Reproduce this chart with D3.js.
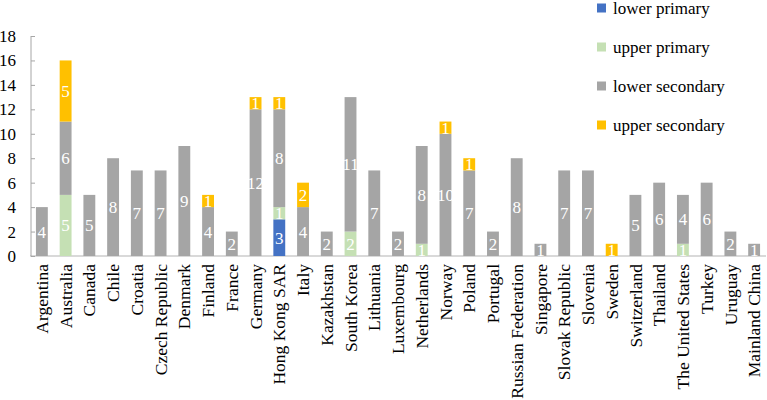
<!DOCTYPE html>
<html>
<head>
<meta charset="utf-8">
<script src="https://cdn.jsdelivr.net/npm/d3@7"></script>
</head>
<body style="margin:0;background:#fff">
<svg id="chart" width="767" height="400" font-family="Liberation Serif"></svg>
<script>
// data
var countries = ["Argentina", "Australia", "Canada", "Chile", "Croatia", "Czech Republic", "Denmark",
    "Finland", "France", "Germany", "Hong Kong SAR", "Italy", "Kazakhstan", "South Korea", "Lithuania",
    "Luxembourg", "Netherlands", "Norway", "Poland", "Portugal", "Russian Federation", "Singapore",
    "Slovak Republic", "Slovenia", "Sweden", "Switzerland", "Thailand", "The United States", "Turkey",
    "Uruguay", "Mainland China"];
var lowerPrimary   = [0,0,0,0,0,0,0,0,0,0,3,0,0,0,0,0,0,0,0,0,0,0,0,0,0,0,0,0,0,0,0];
var upperPrimary   = [0,5,0,0,0,0,0,0,0,0,1,0,0,2,0,0,1,0,0,0,0,0,0,0,0,0,0,1,0,0,0];
var lowerSecondary = [4,6,5,8,7,7,9,4,2,12,8,4,2,11,7,2,8,10,7,2,8,1,7,7,0,5,6,4,6,2,1];
var upperSecondary = [0,5,0,0,0,0,0,1,0,1,1,2,0,0,0,0,0,1,1,0,0,0,0,0,1,0,0,0,0,0,0];
var seriesNames = ["lower primary", "upper primary", "lower secondary", "upper secondary"];
var yTicks = [0,2,4,6,8,10,12,14,16,18];

var color = ["#4472C4", "#C5E0B4", "#A5A5A5", "#FFC000"];
var font = "Liberation Serif";

var svg = d3.select("#chart");

var table = countries.map(function(c, i) {
    return {name: c, lp: lowerPrimary[i], up: upperPrimary[i], ls: lowerSecondary[i], us: upperSecondary[i]};
});
var keys = ["lp", "up", "ls", "us"];
var stacked = d3.stack().keys(keys)(table);

var x = d3.scaleBand()
    .domain(countries)
    .range([30, 766])
    .paddingInner(0.5)
    .paddingOuter(0.25);
var y = d3.scaleLinear()
    .domain([0, 18])
    .range([256, 36]);

// x axis line
svg.append("line")
    .attr("x1", 30).attr("x2", 766)
    .attr("y1", y(0)).attr("y2", y(0))
    .attr("stroke", "#D9D9D9")
    .attr("stroke-width", 2);

// bars
var layer = svg.selectAll("g.layer")
    .data(stacked)
    .enter().append("g")
    .attr("class", "layer")
    .attr("fill", function(d, i) { return color[i]; });

layer.selectAll("rect")
    .data(function(d) { return d; })
    .enter().append("rect")
    .attr("x", function(d) { return x(d.data.name); })
    .attr("width", x.bandwidth())
    .attr("y", function(d) { return y(d[1]); })
    .attr("height", function(d) { return y(d[0]) - y(d[1]); });

// value labels
layer.selectAll("text")
    .data(function(d) { return d.filter(function(e) { return e[1] - e[0] > 0; }); })
    .enter().append("text")
    .attr("x", function(d) { return x(d.data.name) + x.bandwidth() / 2; })
    .attr("y", function(d) { return (y(d[0]) + y(d[1])) / 2; })
    .attr("dy", "0.35em")
    .attr("text-anchor", "middle")
    .attr("fill", "white")
    .attr("font-size", 17)
    .text(function(d) { return d[1] - d[0]; });

// y axis
var yAxis = svg.append("g")
    .attr("transform", "translate(31,0)")
    .call(d3.axisLeft(y).tickValues(yTicks).tickSize(-4).tickPadding(15));
yAxis.attr("font-size", 17);
yAxis.select(".domain").attr("stroke", "#A6A6A6").attr("d", "M0," + y(18) + "V" + y(0));
yAxis.selectAll(".tick line").attr("stroke", "#A6A6A6");
yAxis.selectAll(".tick text").attr("fill", "#000");

// category labels
svg.selectAll("text.cat")
    .data(countries)
    .enter().append("text")
    .attr("class", "cat")
    .attr("transform", function(d) {
        return "translate(" + (x(d) + x.bandwidth() / 2) + ",264) rotate(-90)";
    })
    .attr("dy", "0.35em")
    .attr("text-anchor", "end")
    .attr("font-size", 17.5)
    .attr("fill", "#000")
    .text(function(d) { return d; });

// legend
var legend = svg.selectAll("g.legend")
    .data(seriesNames)
    .enter().append("g")
    .attr("class", "legend")
    .attr("transform", function(d, i) { return "translate(597," + (8 + i * 39) + ")"; });
legend.append("rect")
    .attr("x", 0).attr("y", -4.5)
    .attr("width", 9).attr("height", 9)
    .attr("fill", function(d, i) { return color[i]; });
legend.append("text")
    .attr("x", 16)
    .attr("dy", "0.35em")
    .attr("font-size", 17)
    .attr("fill", "#000")
    .text(function(d) { return d; });

// フォントを全テキストに設定（読み込み後にもう一度）
function setFont() {
    svg.selectAll("text").attr("font-family", null).attr("font-family", font);
}
setFont();
if (document.fonts && document.fonts.load) {
    document.fonts.load("17px '" + font + "'").then(setFont);
}
requestAnimationFrame(setFont);
</script>
</body>
</html>
